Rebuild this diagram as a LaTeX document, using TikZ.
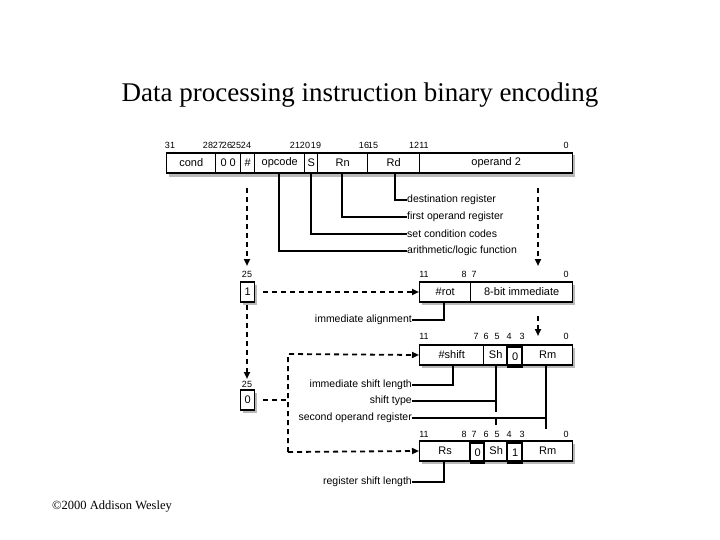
\documentclass[tikz,border=0pt]{standalone}
\usepackage{fontspec}
\setmainfont{Liberation Serif}
\newfontfamily\arial{Liberation Sans}
\usetikzlibrary{arrows.meta}
\begin{document}
\begin{tikzpicture}[x=1pt,y=-1pt,
  fld/.style={draw,line width=1.4pt,anchor=west,minimum height=20pt,inner sep=0pt,font=\arial\fontsize{11}{12}\selectfont,fill=white},
  shad/.style={fill=gray!55},
  bit/.style={font=\arial\fontsize{9}{10}\selectfont,inner sep=0pt},
  lab/.style={font=\arial\fontsize{10.5}{12}\selectfont,inner sep=0pt},
  lead/.style={line width=1.6pt},
  darr/.style={line width=1.8pt,dash pattern=on 5pt off 4pt,-{Triangle[length=7pt,width=6pt]}},
  dashn/.style={line width=1.8pt,dash pattern=on 5pt off 4pt}]
\useasboundingbox (0,0) rectangle (720,540);
\node[font=\fontsize{27}{30}\selectfont] (title) at (360,95) {Data processing instruction binary encoding};
\node[anchor=west,font=\fontsize{12.5}{14}\selectfont,inner sep=0pt] (copy) at (52,507) {©2000 Addison Wesley};
% top register
\fill[shad] (169,155) rectangle (575,177);
\node[fld,minimum width=49pt] (cond) at (166,163) {cond};
\node[fld,minimum width=25pt] (zz) at (215,163) {0 0};
\node[fld,minimum width=14pt] (hash) at (240,163) {\#};
\node[fld,minimum width=50pt] (opc) at (254,163) {opcode};
\node[fld,minimum width=13pt] (s) at (304,163) {S};
\node[fld,minimum width=50pt] (rn) at (317,163) {Rn};
\node[fld,minimum width=52pt] (rd) at (367,163) {Rd};
\node[fld,minimum width=153pt] (op2) at (419,163) {operand 2};
\foreach \t/\x in {31/170,28/208,27/218,26/227,25/236,24/246,21/295,20/305,19/316,16/364,15/373,12/414,11/424,0/566}
  \node[bit] at (\x,145) {\t};
% labels
\node[lab,anchor=west] (l1) at (407,200) {destination register};
\node[lab,anchor=west] (l2) at (407,217) {first operand register};
\node[lab,anchor=west] (l3) at (407,234) {set condition codes};
\node[lab,anchor=west] (l4) at (407,251) {arithmetic/logic function};
\draw[lead] (rd.south -| 395,0) |- (l1.west);
\draw[lead] (rn.south -| 342,0) |- (l2.west);
\draw[lead] (s.south) |- (l3.west);
\draw[lead] (opc.south -| 279,0) |- (l4.west);
\coordinate (d1) at (247,188); \coordinate (d2) at (538,188);
\draw[darr] (d1) -- (247,266);
\draw[darr] (d2) -- (538,266);
% immediate
\node[bit] at (247,274) {25};
\fill[shad] (243,285) rectangle (257,305);
\node[fld,minimum width=14pt] (one) at (240,292) {1};
\foreach \t/\x in {11/424,8/464,7/474,0/566} \node[bit] at (\x,274) {\t};
\fill[shad] (422,285) rectangle (575,305);
\node[fld,minimum width=51pt] (rot) at (419,292) {\#rot};
\node[fld,minimum width=102pt] (imm) at (470,292) {8-bit immediate};
\draw[darr] (one.east) ++(8,0) -- (rot.west);
\node[lab,anchor=east] (ia) at (412,320) {immediate alignment};
\draw[lead] (ia.east) -| (rot.south -| 444,0);
\coordinate (d3) at (538,316);
\draw[darr] (d3) -- (538,336);
% shift immediate
\foreach \t/\x in {11/424,7/476,6/486,5/497,4/509,3/522,0/566} \node[bit] at (\x,336) {\t};
\fill[shad] (422,348) rectangle (575,368);
\node[fld,minimum width=64pt] (shf) at (419,355) {\#shift};
\node[fld,minimum width=24pt] (sh1) at (483,355) {Sh};
\node[fld,minimum width=15pt] (z0) at (507,357) {0};
\draw[line width=1.4pt] (507,345) rectangle (522,365);
\node[fld,minimum width=50pt] (rm1) at (522,355) {Rm};
\draw[darr] (247,305) -- (247,379);
\node[bit] at (247,384) {25};
\fill[shad] (243,393) rectangle (257,413);
\node[fld,minimum width=14pt] (zero) at (240,400) {0};
\coordinate (j) at (288,400);
\draw[dashn] (zero.east) ++(8,0) -- (j);
\draw[darr] (288,452) -- (288,354) -- (shf.west);
\node[lab,anchor=east] (isl) at (412,385) {immediate shift length};
\node[lab,anchor=east] (st) at (412,401) {shift type};
\node[lab,anchor=east] (sor) at (412,418) {second operand register};
\draw[lead] (isl.east) -| (shf.south -| 453,0);
\draw[lead] (st.east) -| (sh1.south -| 496,0);
\draw[lead] (sh1.south -| 496,0) -- (496,412);
\draw[lead] (496,419) -- (496,425);
\draw[lead] (sor.east) -- (546,418);
\draw[lead] (rm1.south -| 546,0) -- (546,429);
% register shift
\foreach \t/\x in {11/424,8/464,7/474,6/486,5/497,4/509,3/522,0/566} \node[bit] at (\x,434) {\t};
\fill[shad] (422,444) rectangle (575,464);
\node[fld,minimum width=51pt] (rs) at (419,451) {Rs};
\node[fld,minimum width=14pt] (z1) at (470,453) {0};
\draw[line width=1.4pt] (470,441) rectangle (484,461);
\node[fld,minimum width=23pt] (sh2) at (484,451) {Sh};
\node[fld,minimum width=15pt] (o1) at (507,453) {1};
\draw[line width=1.4pt] (507,441) rectangle (522,461);
\node[fld,minimum width=50pt] (rm2) at (522,451) {Rm};
\draw[darr] (288,452) -- (rs.west);
\node[lab,anchor=east] (rsl) at (412,482) {register shift length};
\draw[lead] (rsl.east) -| (rs.south -| 444,0);
\end{tikzpicture}
\end{document}
